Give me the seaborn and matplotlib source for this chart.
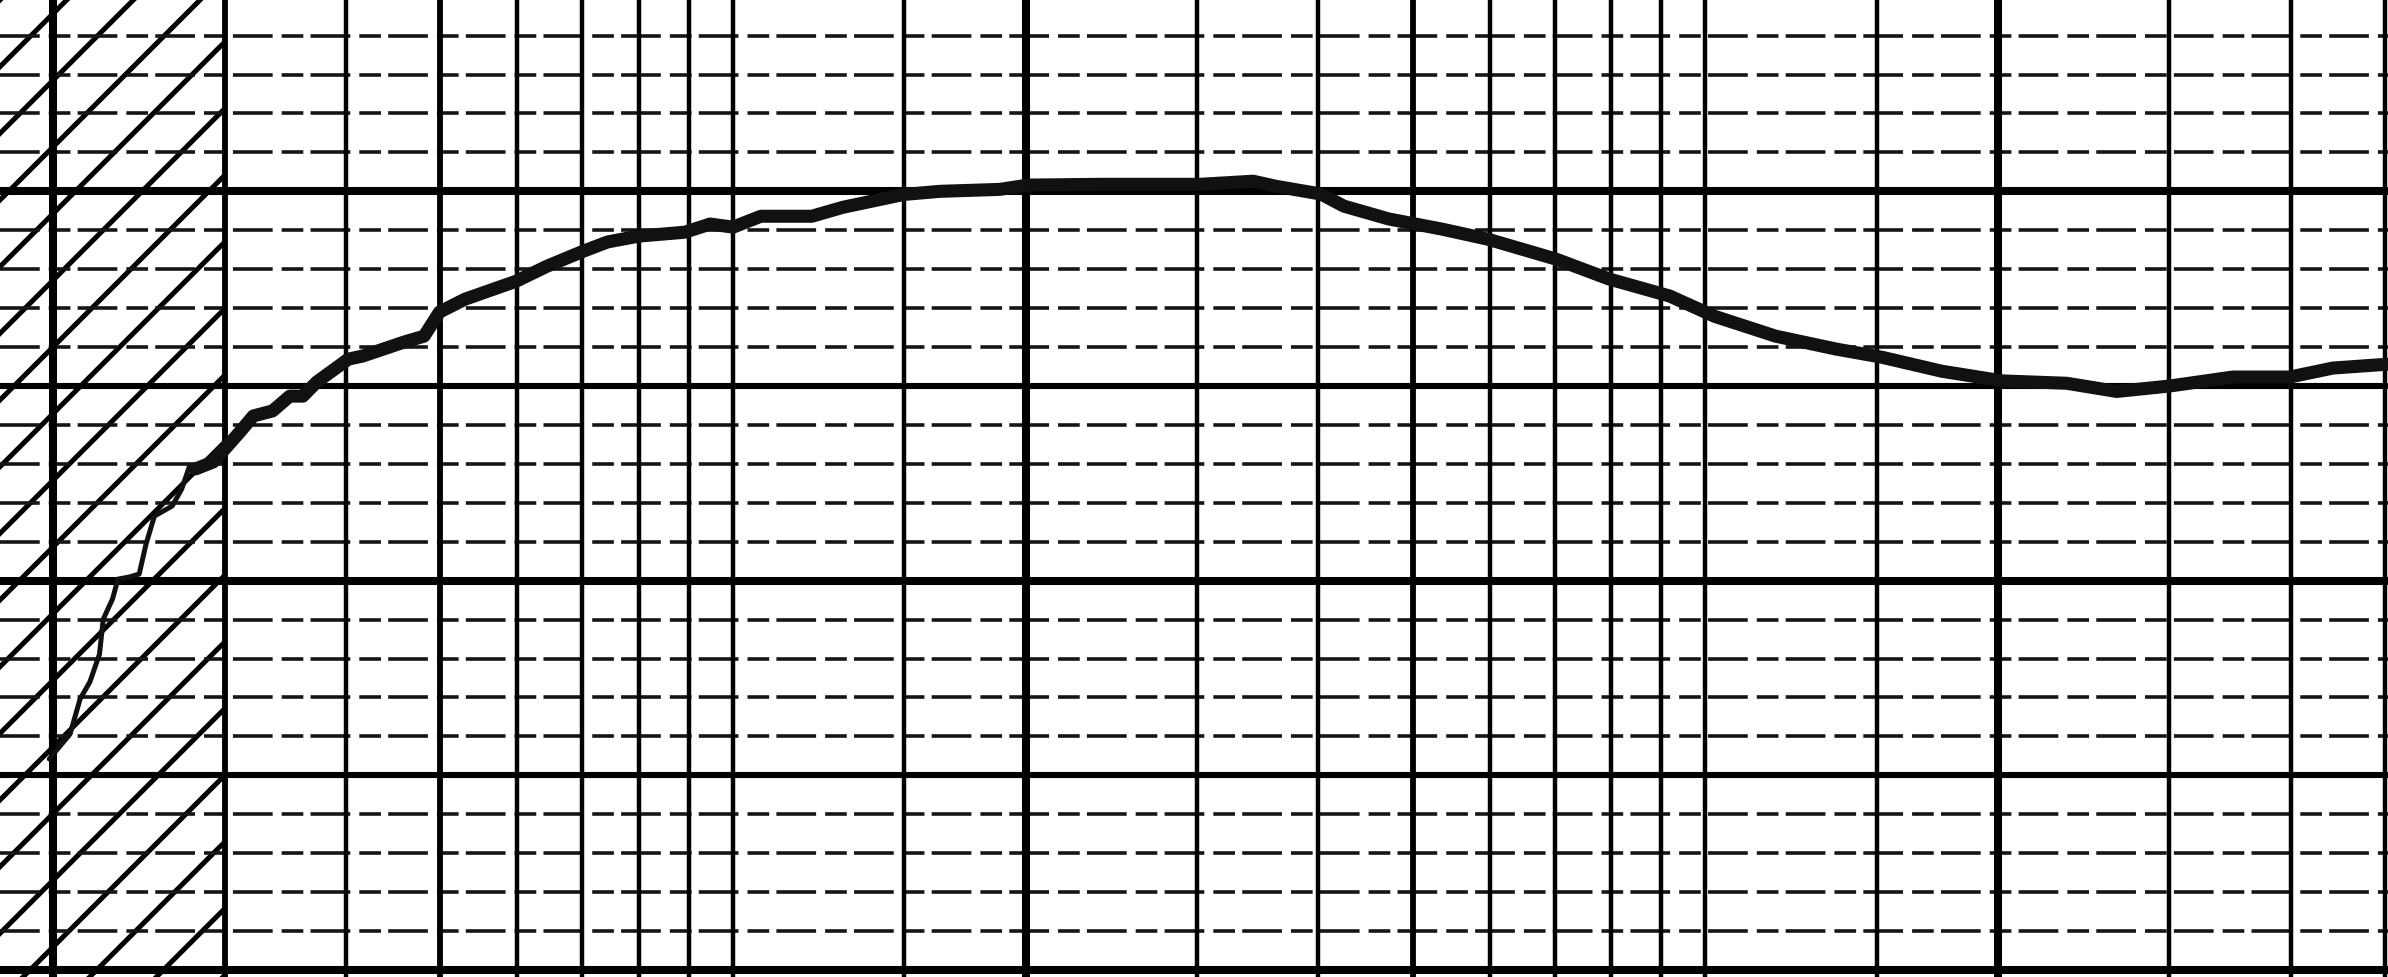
import seaborn as sns
import pandas as pd
from matplotlib import pyplot as plt

### recorder trace (frequency on log scale, level in minor divisions)

# thin pen trace inside the hatched band
freq_thin = [0.198, 0.208, 0.213, 0.218, 0.223, 0.225, 0.230, 0.233, 0.239, 0.245,
             0.249, 0.254, 0.265, 0.271, 0.276, 0.283]
level_thin = [5.42, 6.06, 6.96, 7.40, 8.11, 9.01, 9.53, 10.04, 10.09, 10.17,
              10.94, 11.66, 11.92, 12.36, 12.94, 12.99]

# main trace
freq_main = [0.280, 0.292, 0.302, 0.311, 0.321, 0.336, 0.350, 0.361, 0.373, 0.402,
             0.416, 0.459, 0.481, 0.499, 0.530, 0.598, 0.644, 0.701, 0.743, 0.800,
             0.892, 0.947, 1.000, 1.068, 1.205, 1.297, 1.498, 1.632, 1.881, 2.010,
             2.384, 3.020, 3.426, 3.616, 4.024, 4.248, 4.725, 5.358, 5.976, 7.018,
             7.956, 9.192, 10.22, 11.81, 13.62, 15.18, 17.50, 20.22, 23.53, 26.49,
             30.04, 34.88, 39.91, 44.18, 50.3]
level_main = [12.87, 13.05, 13.46, 13.82, 14.23, 14.36, 14.74, 14.74, 15.10, 15.69,
              15.77, 16.13, 16.28, 16.90, 17.23, 17.69, 18.08, 18.46, 18.70, 18.85,
              18.95, 19.16, 19.08, 19.36, 19.36, 19.59, 19.92, 20.00, 20.05, 20.16,
              20.18, 20.18, 20.26, 20.13, 19.93, 19.62, 19.29, 19.03, 18.77, 18.26,
              17.75, 17.31, 16.79, 16.28, 15.95, 15.74, 15.38, 15.13, 15.07, 14.86,
              15.00, 15.23, 15.23, 15.46, 15.56]

### chart paper rulings

x_heavy = [0.2, 2, 20]
x_medium = [0.3, 0.5, 5]
x_normal = [0.4, 0.6, 0.7, 0.8, 0.9, 1, 1.5, 3, 4, 6, 7, 8, 9, 10, 15, 30, 40, 50]
y_heavy = [0, 10, 20]
y_medium = [5, 15, 25]
y_minor = [v for v in range(0, 26) if v % 5 != 0]

hatch_edge = 0.3
x_range = (0.1762, 50.36)
y_range = (-0.18, 24.94)

df_thin = pd.DataFrame({'freq': freq_thin, 'level': level_thin})
df_main = pd.DataFrame({'freq': freq_main, 'level': level_main})

# ---------------------------------------- #

sns.set_style('white')
plt.rcParams['hatch.linewidth'] = 1.8
plt.rcParams['hatch.color'] = 'black'

fig, ax = plt.subplots(figsize=(11.94, 4.89), dpi=200)
fig.subplots_adjust(left=0, right=1, bottom=0, top=1)
ax.set_xscale('log')
ax.set_xlim(*x_range)
ax.set_ylim(*y_range)

# hatched band at the low end
ax.axvspan(x_range[0], hatch_edge, facecolor='none', edgecolor='black',
           hatch='/', linewidth=0, zorder=1)

# horizontal rulings
for v in y_minor:
    ax.axhline(v, color='#151515', lw=1.3, ls=(0, (11, 2.5, 6, 2)), zorder=2)
for v in y_medium:
    ax.axhline(v, color='black', lw=2.2, zorder=2)
for v in y_heavy:
    ax.axhline(v, color='black', lw=2.9, zorder=2)

# vertical rulings
for v in x_normal:
    ax.axvline(v, color='black', lw=1.6, zorder=2)
for v in x_medium:
    ax.axvline(v, color='black', lw=2.1, zorder=2)
for v in x_heavy:
    ax.axvline(v, color='black', lw=2.9, zorder=2)

# pen trace
sns.lineplot(data=df_thin, x='freq', y='level', ax=ax, color='#111111', lw=1.8,
             sort=False, estimator=None, zorder=3, solid_joinstyle='round')
sns.lineplot(data=df_main, x='freq', y='level', ax=ax, color='#111111', lw=4.7,
             sort=False, estimator=None, zorder=3, solid_capstyle='round',
             solid_joinstyle='round')

ax.set_axis_off()
plt.savefig('out.png', dpi=200)
